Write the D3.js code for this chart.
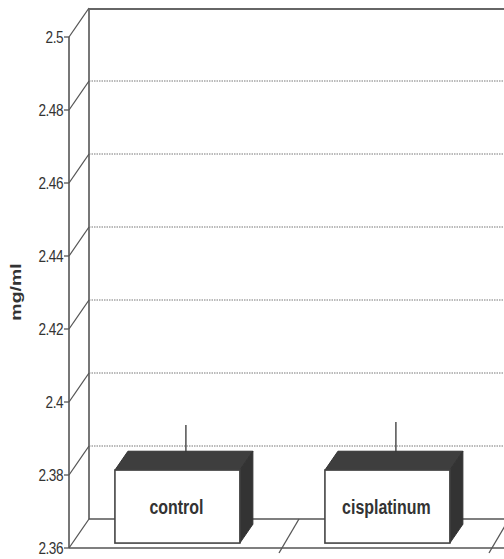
<!DOCTYPE html>
<html lang="en">
<head>
    <meta charset="UTF-8">
    <title>mg/ml</title>
    <style>
        body {
            margin: 0;
            background: #fff;
        }

        #chart text {
            font-family: "Liberation Sans", Arial, sans-serif;
            fill: #333;
        }
    </style>
</head>
<body>
<div id="chart"></div>

<script src="https://cdn.jsdelivr.net/npm/d3@7/dist/d3.min.js"></script>
<script>
    // 数据
    var categories = ["control", "cisplatinum"];
    var values = [2.380, 2.380];
    var errors = [0.0098, 0.0106];
    var yTicks = [2.36, 2.38, 2.4, 2.42, 2.44, 2.46, 2.48, 2.5];

    var width = 504, height = 559;
    var svg = d3.select("#chart").append("svg")
        .attr("width", width)
        .attr("height", height);

    // 3D 深度偏移
    var depthX = 20, depthY = -29;
    function dx(d) { return d * depthX; }
    function dy(d) { return d * depthY; }

    var y = d3.scaleLinear().domain([2.36, 2.5]).range([548, 37]);
    var axisX = 69;

    // 分类区间（每类 210px）
    var xCat = d3.scaleBand().domain(categories).range([axisX, axisX + 420]);
    var xBar = d3.scaleBand().domain(categories).range([axisX, axisX + 420])
        .paddingInner(0.405).paddingOuter(0.2025);

    var lineColor = "#555";

    // 背墙
    svg.append("line")
        .attr("x1", axisX + dx(1)).attr("y1", y(2.5) + dy(1) + 1)
        .attr("x2", axisX + dx(1)).attr("y2", y(2.36) + dy(1))
        .attr("stroke", lineColor).attr("stroke-width", 1.6);
    svg.append("line")
        .attr("x1", axisX + dx(1)).attr("y1", y(2.5) + dy(1) + 1)
        .attr("x2", width).attr("y2", y(2.5) + dy(1) + 1)
        .attr("stroke", "#666").attr("stroke-width", 2);

    // 网格线（虚线）
    svg.selectAll("line.grid")
        .data(yTicks.filter(function (t) { return t > 2.36 && t < 2.5; }))
        .enter().append("line")
        .attr("class", "grid")
        .attr("x1", axisX + dx(1)).attr("x2", width)
        .attr("y1", function (t) { return y(t) + dy(1); })
        .attr("y2", function (t) { return y(t) + dy(1); })
        .attr("stroke", "#777").attr("stroke-width", 1)
        .attr("stroke-dasharray", "1.5,1");

    // 刻度斜线
    svg.selectAll("line.diag")
        .data(yTicks)
        .enter().append("line")
        .attr("class", "diag")
        .attr("x1", axisX).attr("y1", function (t) { return y(t); })
        .attr("x2", axisX + dx(1)).attr("y2", function (t) { return y(t) + dy(1); })
        .attr("stroke", lineColor).attr("stroke-width", 1.3);

    // 地板
    svg.append("line")
        .attr("x1", axisX + dx(1)).attr("y1", y(2.36) + dy(1))
        .attr("x2", width).attr("y2", y(2.36) + dy(1))
        .attr("stroke", lineColor).attr("stroke-width", 1.6);
    svg.append("line")
        .attr("x1", axisX).attr("y1", y(2.36))
        .attr("x2", width).attr("y2", y(2.36))
        .attr("stroke", lineColor).attr("stroke-width", 1.6);

    // 分类分隔线
    svg.selectAll("line.divider")
        .data(categories)
        .enter().append("line")
        .attr("class", "divider")
        .attr("x1", function (c) { return xCat(c) + xCat.bandwidth(); })
        .attr("y1", y(2.36) + 5)
        .attr("x2", function (c) { return xCat(c) + xCat.bandwidth() + dx(1); })
        .attr("y2", y(2.36) + dy(1))
        .attr("stroke", lineColor).attr("stroke-width", 1.3);

    // Y 轴
    svg.append("line")
        .attr("x1", axisX).attr("y1", y(2.5))
        .attr("x2", axisX).attr("y2", y(2.36))
        .attr("stroke", lineColor).attr("stroke-width", 1.6);
    svg.selectAll("line.tick")
        .data(yTicks)
        .enter().append("line")
        .attr("class", "tick")
        .attr("x1", axisX - 5).attr("x2", axisX)
        .attr("y1", function (t) { return y(t); })
        .attr("y2", function (t) { return y(t); })
        .attr("stroke", lineColor).attr("stroke-width", 1.3);
    svg.selectAll("text.ytick")
        .data(yTicks)
        .enter().append("text")
        .attr("class", "ytick")
        .attr("transform", function (t) { return "translate(" + (axisX - 6) + "," + (y(t) + 6) + ") scale(0.8,1)"; })
        .attr("text-anchor", "end")
        .attr("font-size", "17px")
        .attr("letter-spacing", "-0.6px")
        .text(function (t) { return d3.format("")(+t.toFixed(2)); });

    svg.append("text")
        .attr("transform", "translate(16, 292) rotate(-90) scale(1.3,1)")
        .attr("text-anchor", "middle")
        .attr("dy", "0.35em")
        .attr("font-size", "15px")
        .attr("font-weight", "bold")
        .text("mg/ml");

    // 柱子（3D 盒子）
    var front = 0.17, back = 0.82;
    var base = y(2.36);
    var bars = svg.selectAll("g.bar")
        .data(categories)
        .enter().append("g")
        .attr("class", "bar");

    bars.each(function (c, i) {
        var g = d3.select(this);
        var x0 = xBar(c) + dx(front), x1 = x0 + xBar.bandwidth();
        var yTop = y(values[i]) + dy(front), yBot = base + dy(front);
        var ox = dx(back - front), oy = dy(back - front);

        // 误差线
        var mid = (front + back) / 2;
        var ex = xBar(c) + xBar.bandwidth() / 2 + dx(mid) + 2;
        g.append("line")
            .attr("x1", ex).attr("x2", ex)
            .attr("y1", y(values[i]) + dy(mid))
            .attr("y2", y(values[i] + errors[i]) + dy(mid))
            .attr("stroke", "#444").attr("stroke-width", 1.4);

        // 顶面
        g.append("path")
            .attr("d", "M" + x0 + "," + yTop + "L" + (x0 + ox) + "," + (yTop + oy) +
                "L" + (x1 + ox) + "," + (yTop + oy) + "L" + x1 + "," + yTop + "Z")
            .attr("fill", "#3e3e3e").attr("stroke", "#333").attr("stroke-width", 1);
        // 侧面
        g.append("path")
            .attr("d", "M" + x1 + "," + yTop + "L" + (x1 + ox) + "," + (yTop + oy) +
                "L" + (x1 + ox) + "," + (yBot + oy) + "L" + x1 + "," + yBot + "Z")
            .attr("fill", "#333").attr("stroke", "#333").attr("stroke-width", 1);
        // 正面
        g.append("rect")
            .attr("x", x0).attr("y", yTop)
            .attr("width", x1 - x0).attr("height", yBot - yTop)
            .attr("fill", "#fff").attr("stroke", "#444").attr("stroke-width", 1.6);

        g.append("text")
            .attr("transform", "translate(" + ((x0 + x1) / 2 - 1) + "," + ((yTop + yBot) / 2 + 7) + ") scale(0.76,1)")
            .attr("text-anchor", "middle")
            .attr("font-size", "21px")
            .attr("font-weight", "bold")
            .text(c);
    });
</script>
</body>
</html>
